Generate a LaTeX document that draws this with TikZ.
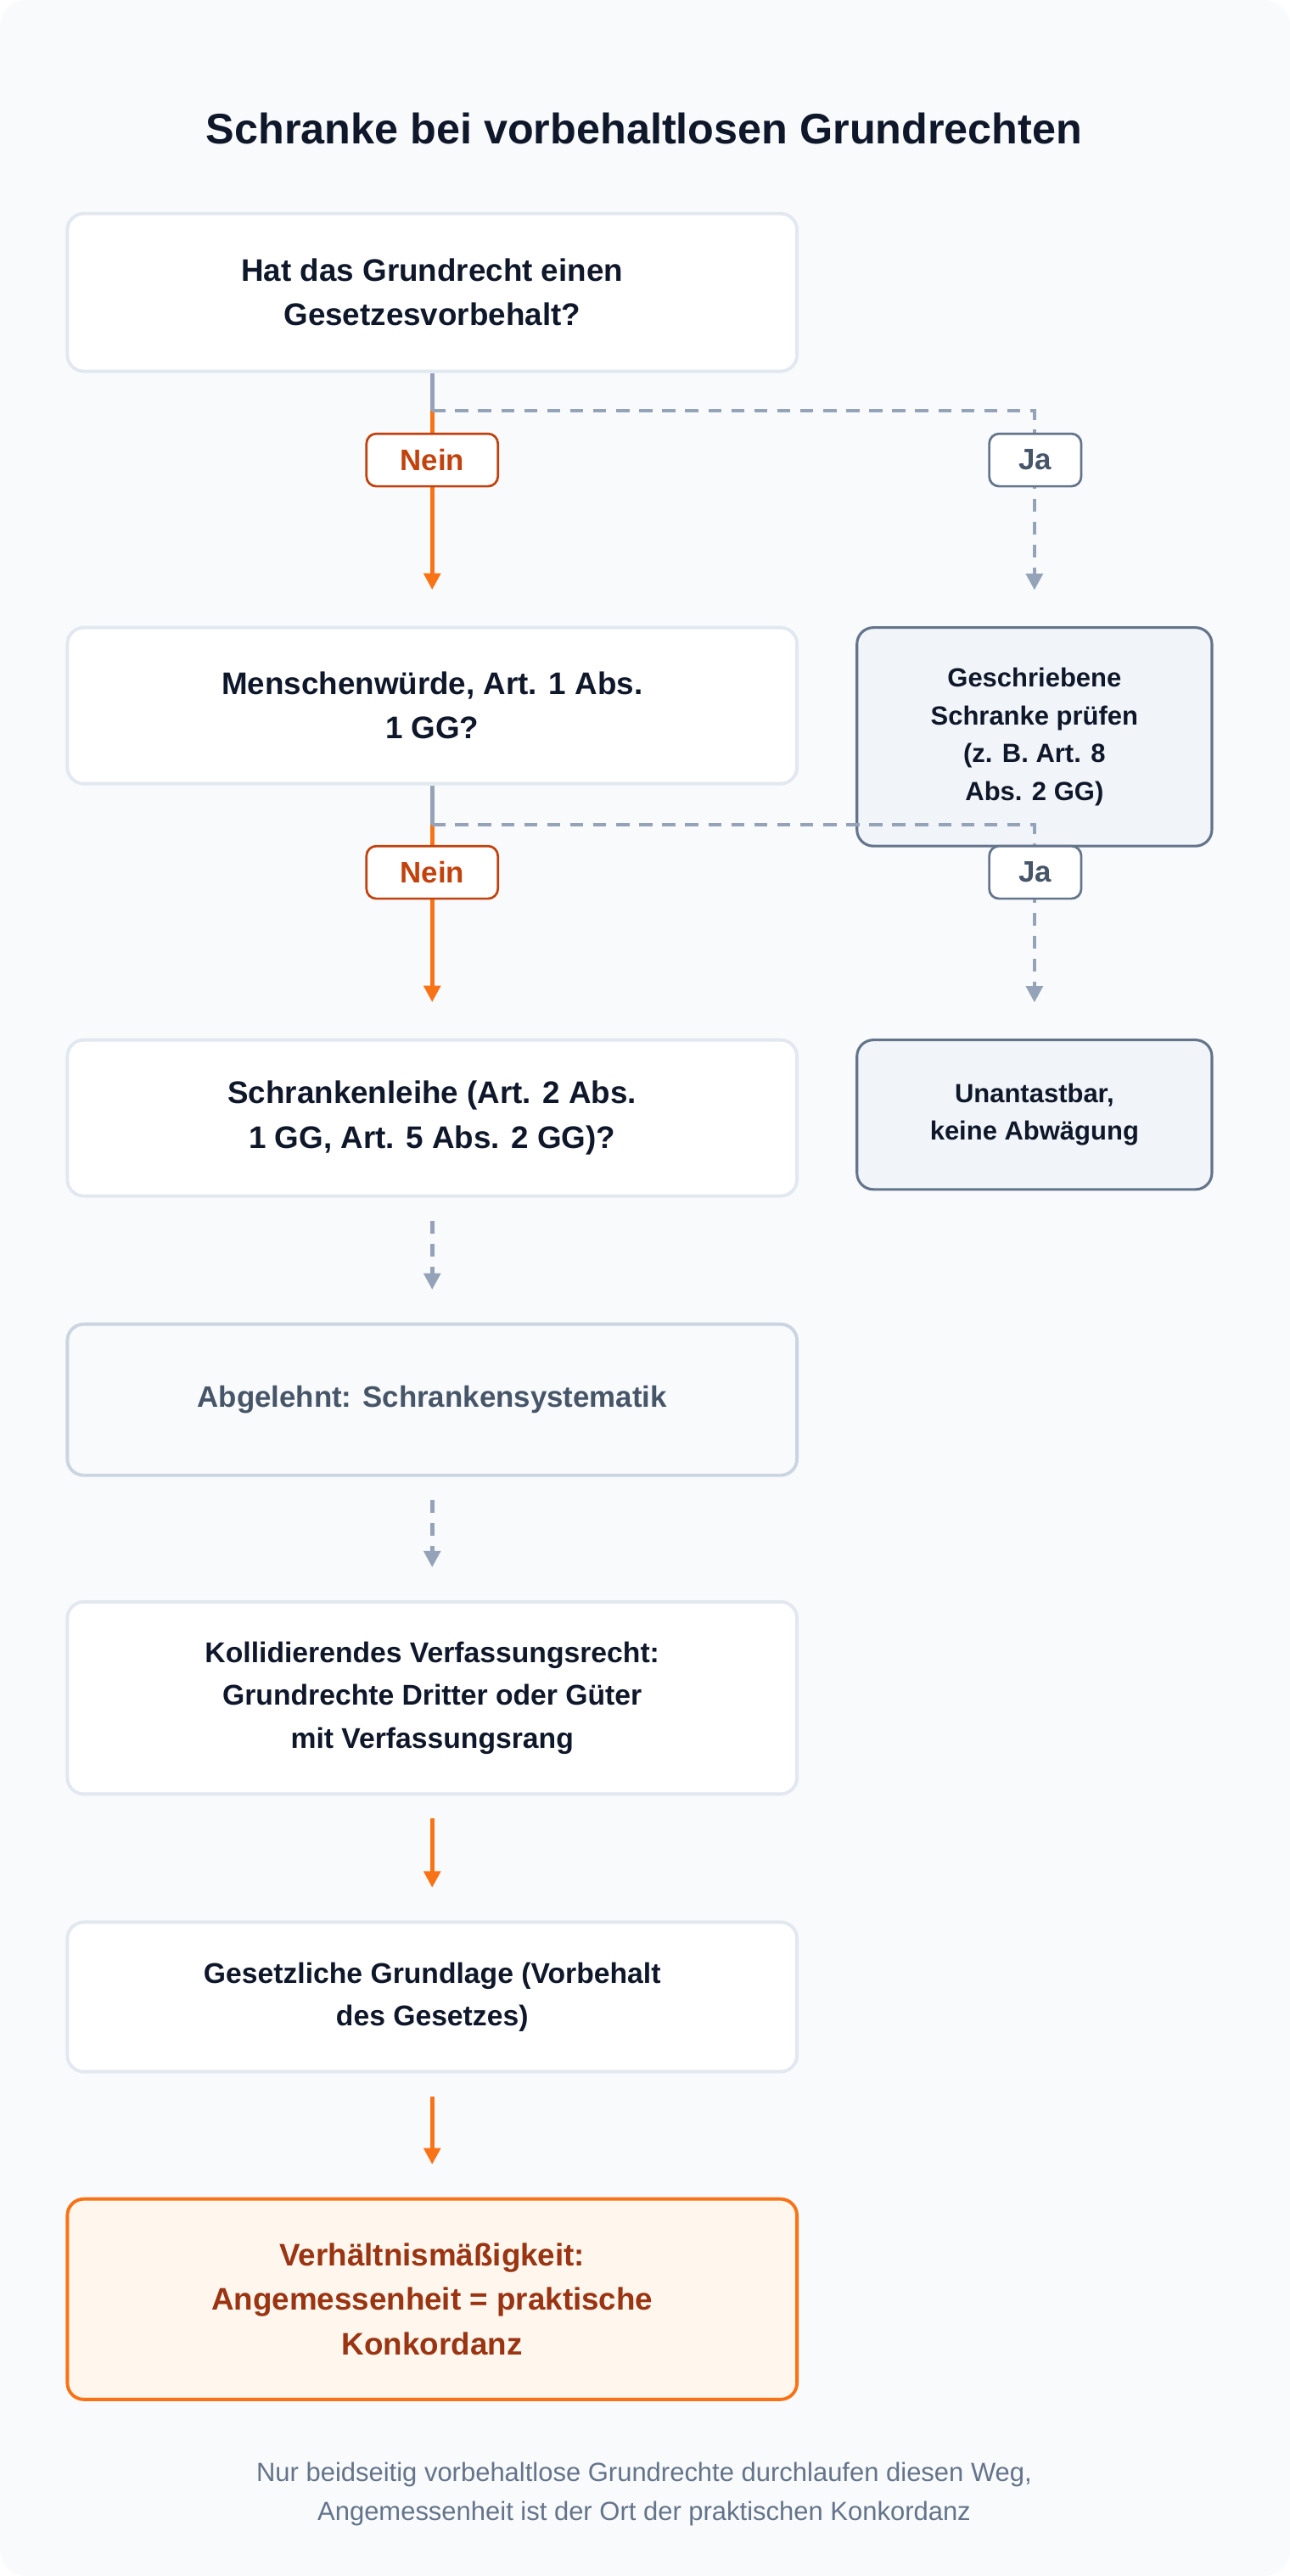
\documentclass[tikz,border=0pt]{standalone}
\usepackage{fontspec}
\setmainfont{Liberation Sans}
\usetikzlibrary{arrows.meta, positioning}
\definecolor{bgc}{HTML}{F8FAFC}
\definecolor{ink}{HTML}{0F172A}
\definecolor{edge}{HTML}{E2E8F0}
\definecolor{slate}{HTML}{64748B}
\definecolor{slatetxt}{HTML}{475569}
\definecolor{dashc}{HTML}{94A3B8}
\definecolor{orng}{HTML}{F97316}
\definecolor{orngtxt}{HTML}{C2410C}
\definecolor{rust}{HTML}{9A3412}
\definecolor{cream}{HTML}{FFF7ED}
\definecolor{side}{HTML}{F1F5F9}
\definecolor{grayedge}{HTML}{CBD5E1}
\tikzset{
  stage/.style={draw=edge, line width=1pt, fill=white, rounded corners=5pt,
    minimum width=222pt, align=center, font=\bfseries\fontsize{9.5}{13.5}\selectfont, text=ink},
  aside/.style={draw=slate, line width=0.8pt, fill=side, rounded corners=5pt,
    minimum width=108pt, align=center, font=\bfseries\fontsize{8}{11.5}\selectfont, text=ink},
  yes/.style={draw=orng, line width=1.2pt, -{Triangle[length=5pt,width=5pt]}},
  maybe/.style={draw=dashc, line width=1.2pt, dash pattern=on 4pt off 3pt, -{Triangle[length=5pt,width=5pt]}},
  tag/.style={draw=#1, line width=0.7pt, fill=white, rounded corners=3pt, minimum width=40pt,
    minimum height=16pt, font=\bfseries\fontsize{9}{10}\selectfont},
}
\begin{document}
\begin{tikzpicture}[x=0.5pt, y=-0.5pt]
  \fill[bgc, rounded corners=8pt] (0,0) rectangle (785,1568);
  \useasboundingbox (0,0) rectangle (785,1568);

  \node (title) at (392,78) {\bfseries\fontsize{13}{15}\selectfont\color{ink}Schranke bei vorbehaltlosen Grundrechten};

  % main column
  \node (b1) [stage, minimum height=48pt] at (263,178) {Hat das Grundrecht einen\\Gesetzesvorbehalt?};
  \node (b2) [stage, minimum height=47.5pt] at (263,429.5) {Menschenwürde, Art. 1 Abs.\\1 GG?};
  \node (b3) [stage, minimum height=47.5pt] at (263,680.5) {Schrankenleihe (Art. 2 Abs.\\1 GG, Art. 5 Abs. 2 GG)?};
  \node (b4) [stage, draw=grayedge, fill=bgc, text=slatetxt, minimum height=46pt, font=\bfseries\fontsize{9}{13}\selectfont] at (263,852) {Abgelehnt: Schrankensystematik};
  \node (b5) [stage, minimum height=58.5pt, font=\bfseries\fontsize{8.7}{13}\selectfont] at (263,1033.5) {Kollidierendes Verfassungsrecht:\\Grundrechte Dritter oder Güter\\mit Verfassungsrang};
  \node (b6) [stage, minimum height=45.5pt, font=\bfseries\fontsize{8.7}{13}\selectfont] at (263,1215.5) {Gesetzliche Grundlage (Vorbehalt\\des Gesetzes)};
  \node (b7) [stage, draw=orng, fill=cream, text=rust, minimum height=61pt] at (263,1399.5) {Verhältnismäßigkeit:\\Angemessenheit = praktische\\Konkordanz};

  % side column
  \node (r1) [aside, minimum height=66.5pt] at (629.5,448.5) {Geschriebene\\Schranke prüfen\\(z. B. Art. 8\\Abs. 2 GG)};
  \node (r2) [aside, minimum height=45.5pt] at (629.5,678.5) {Unantastbar,\\keine Abwägung};

  % branch points
  \coordinate (s1) at (263,250);
  \coordinate (s2) at (263,502);

  \draw[dashc, line width=1.2pt] (b1.south) -- (s1);
  \draw[yes, shorten >=11pt] (s1) -- (b2.north);
  \draw[maybe, shorten >=11pt] (s1) -| (r1.north);
  \node (n1) [tag=orngtxt, text=orngtxt] at (263,280) {Nein};
  \node (j1) [tag=slate, text=slatetxt, minimum width=28pt] at (630,280) {Ja};

  \draw[dashc, line width=1.2pt] (b2.south) -- (s2);
  \draw[yes, shorten >=11pt] (s2) -- (b3.north);
  \draw[maybe, shorten >=11pt] (s2) -| (r2.north);
  \node (n2) [tag=orngtxt, text=orngtxt] at (263,531) {Nein};
  \node (j2) [tag=slate, text=slatetxt, minimum width=28pt] at (630,531) {Ja};

  \draw[maybe, shorten <=7pt, shorten >=10pt] (b3.south) -- (b4.north);
  \draw[maybe, shorten <=7pt, shorten >=10pt] (b4.south) -- (b5.north);
  \draw[yes, shorten <=7pt, shorten >=10pt] (b5.south) -- (b6.north);
  \draw[yes, shorten <=7pt, shorten >=10pt] (b6.south) -- (b7.north);

  \node (foot) [align=center, text=slate, font=\fontsize{8}{12}\selectfont] at (392,1518)
    {Nur beidseitig vorbehaltlose Grundrechte durchlaufen diesen Weg,\\Angemessenheit ist der Ort der praktischen Konkordanz};
\end{tikzpicture}
\end{document}
